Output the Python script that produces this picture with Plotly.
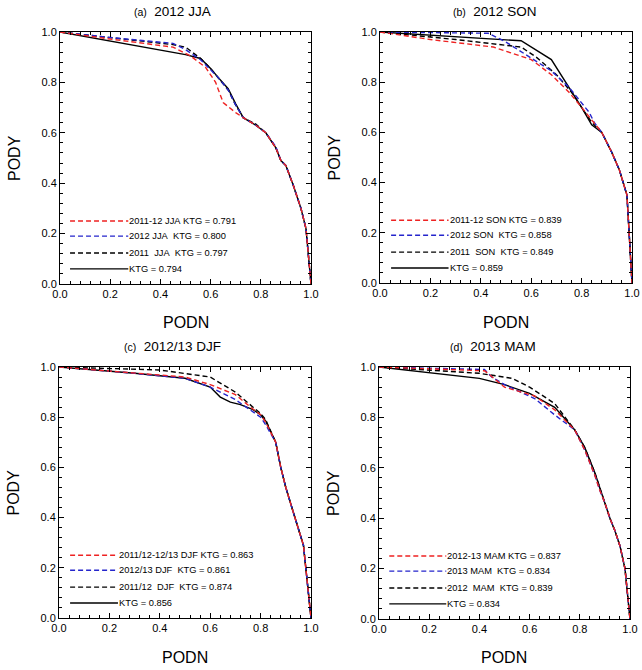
import plotly.graph_objects as go

# ---------------- data ----------------
# Panel (a) 2012 JJA
a_red_x = [0, 0.2, 0.45, 0.52, 0.58, 0.62, 0.65, 0.70, 0.73, 0.78, 0.82, 0.86, 0.88, 0.90, 0.93, 0.96, 0.98, 1.0]
a_red_y = [1, 0.972, 0.94, 0.905, 0.86, 0.80, 0.72, 0.68, 0.66, 0.63, 0.60, 0.54, 0.49, 0.47, 0.39, 0.30, 0.22, 0.0]
a_blue_x = [0, 0.2, 0.45, 0.50, 0.56, 0.60, 0.63, 0.67, 0.70, 0.73, 0.78, 0.82, 0.86, 0.88, 0.90, 0.93, 0.96, 0.98, 1.0]
a_blue_y = [1, 0.978, 0.955, 0.93, 0.89, 0.85, 0.82, 0.77, 0.71, 0.66, 0.63, 0.60, 0.545, 0.49, 0.47, 0.39, 0.30, 0.22, 0.0]
a_blk_x = [0, 0.2, 0.45, 0.50, 0.56, 0.60, 0.63, 0.67, 0.70, 0.73, 0.78, 0.82, 0.86, 0.88, 0.90, 0.93, 0.96, 0.98, 1.0]
a_blk_y = [1, 0.977, 0.95, 0.94, 0.895, 0.855, 0.82, 0.77, 0.71, 0.66, 0.635, 0.60, 0.54, 0.49, 0.47, 0.39, 0.30, 0.22, 0.0]
a_sol_x = [0, 0.2, 0.50, 0.56, 0.60, 0.63, 0.67, 0.70, 0.73, 0.78, 0.82, 0.86, 0.88, 0.90, 0.93, 0.96, 0.98, 1.0]
a_sol_y = [1, 0.965, 0.91, 0.895, 0.855, 0.82, 0.775, 0.715, 0.66, 0.63, 0.60, 0.54, 0.49, 0.47, 0.39, 0.30, 0.22, 0.0]
a_labels = ["2011-12 JJA KTG = 0.791", "2012 JJA  KTG = 0.800", "2011  JJA  KTG = 0.797", "KTG = 0.794"]

# Panel (b) 2012 SON
b_red_x = [0, 0.2, 0.45, 0.60, 0.68, 0.75, 0.80, 0.84, 0.88, 0.92, 0.95, 0.98, 1.0]
b_red_y = [1, 0.97, 0.94, 0.89, 0.83, 0.76, 0.70, 0.65, 0.60, 0.52, 0.45, 0.35, 0.0]
b_blue_x = [0, 0.43, 0.50, 0.58, 0.68, 0.75, 0.80, 0.83, 0.85, 0.88, 0.92, 0.95, 0.98, 1.0]
b_blue_y = [1, 0.995, 0.96, 0.91, 0.845, 0.78, 0.72, 0.68, 0.64, 0.60, 0.52, 0.45, 0.35, 0.0]
b_blk_x = [0, 0.3, 0.56, 0.62, 0.70, 0.76, 0.80, 0.84, 0.88, 0.92, 0.95, 0.98, 1.0]
b_blk_y = [1, 0.97, 0.94, 0.90, 0.83, 0.76, 0.70, 0.64, 0.60, 0.52, 0.45, 0.35, 0.0]
b_sol_x = [0, 0.3, 0.56, 0.68, 0.75, 0.80, 0.84, 0.88, 0.92, 0.95, 0.98, 1.0]
b_sol_y = [1, 0.98, 0.965, 0.89, 0.78, 0.70, 0.63, 0.60, 0.52, 0.45, 0.35, 0.0]
b_labels = ["2011-12 SON KTG = 0.839", "2012 SON  KTG = 0.858", "2011  SON  KTG = 0.849", "KTG = 0.859"]

# Panel (c) 2012/13 DJF
c_red_x = [0, 0.3, 0.50, 0.60, 0.70, 0.76, 0.80, 0.82, 0.86, 0.88, 0.90, 0.93, 0.97, 1.0]
c_red_y = [1, 0.975, 0.96, 0.93, 0.89, 0.84, 0.81, 0.78, 0.70, 0.60, 0.52, 0.42, 0.29, 0.0]
c_blue_x = [0, 0.3, 0.50, 0.60, 0.70, 0.77, 0.80, 0.82, 0.86, 0.88, 0.90, 0.93, 0.97, 1.0]
c_blue_y = [1, 0.975, 0.955, 0.92, 0.87, 0.82, 0.80, 0.77, 0.70, 0.60, 0.52, 0.42, 0.29, 0.0]
c_blk_x = [0, 0.4, 0.60, 0.70, 0.77, 0.80, 0.82, 0.86, 0.88, 0.90, 0.93, 0.97, 1.0]
c_blk_y = [1, 0.988, 0.96, 0.90, 0.84, 0.815, 0.79, 0.70, 0.60, 0.52, 0.42, 0.29, 0.0]
c_sol_x = [0, 0.3, 0.50, 0.60, 0.64, 0.68, 0.72, 0.77, 0.80, 0.82, 0.86, 0.88, 0.90, 0.93, 0.97, 1.0]
c_sol_y = [1, 0.975, 0.955, 0.92, 0.88, 0.86, 0.85, 0.83, 0.81, 0.785, 0.70, 0.60, 0.52, 0.42, 0.29, 0.0]
c_labels = ["2011/12-12/13 DJF KTG = 0.863", "2012/13 DJF  KTG = 0.861", "2011/12  DJF  KTG = 0.874", "KTG = 0.856"]

# Panel (d) 2013 MAM
d_red_x = [0, 0.42, 0.44, 0.50, 0.62, 0.70, 0.78, 0.82, 0.86, 0.88, 0.90, 0.92, 0.94, 0.96, 0.98, 1.0]
d_red_y = [1, 0.985, 0.97, 0.92, 0.885, 0.83, 0.75, 0.67, 0.57, 0.51, 0.46, 0.40, 0.35, 0.29, 0.20, 0.0]
d_blue_x = [0, 0.42, 0.45, 0.50, 0.62, 0.70, 0.78, 0.82, 0.86, 0.88, 0.90, 0.92, 0.94, 0.96, 0.98, 1.0]
d_blue_y = [1, 0.99, 0.96, 0.93, 0.875, 0.81, 0.75, 0.67, 0.57, 0.51, 0.46, 0.40, 0.35, 0.29, 0.20, 0.0]
d_blk_x = [0, 0.4, 0.53, 0.60, 0.70, 0.78, 0.82, 0.86, 0.88, 0.90, 0.92, 0.94, 0.96, 0.98, 1.0]
d_blk_y = [1, 0.975, 0.955, 0.92, 0.855, 0.75, 0.68, 0.58, 0.52, 0.46, 0.40, 0.35, 0.29, 0.20, 0.0]
d_sol_x = [0, 0.4, 0.50, 0.60, 0.70, 0.78, 0.82, 0.86, 0.88, 0.90, 0.92, 0.94, 0.96, 0.98, 1.0]
d_sol_y = [1, 0.955, 0.93, 0.895, 0.84, 0.75, 0.68, 0.58, 0.52, 0.46, 0.40, 0.35, 0.29, 0.20, 0.0]
d_labels = ["2012-13 MAM KTG = 0.837", "2013 MAM  KTG = 0.834", "2012  MAM  KTG = 0.839", "KTG = 0.834"]

tick_vals = [0.0, 0.2, 0.4, 0.6, 0.8, 1.0]
tick_text = ["0.0", "0.2", "0.4", "0.6", "0.8", "1.0"]

panels = [
    dict(tag="(a)", title="2012 JJA", series=[(a_red_x, a_red_y), (a_blue_x, a_blue_y), (a_blk_x, a_blk_y), (a_sol_x, a_sol_y)], labels=a_labels),
    dict(tag="(b)", title="2012 SON", series=[(b_red_x, b_red_y), (b_blue_x, b_blue_y), (b_blk_x, b_blk_y), (b_sol_x, b_sol_y)], labels=b_labels),
    dict(tag="(c)", title="2012/13 DJF", series=[(c_red_x, c_red_y), (c_blue_x, c_blue_y), (c_blk_x, c_blk_y), (c_sol_x, c_sol_y)], labels=c_labels),
    dict(tag="(d)", title="2013 MAM", series=[(d_red_x, d_red_y), (d_blue_x, d_blue_y), (d_blk_x, d_blk_y), (d_sol_x, d_sol_y)], labels=d_labels),
]

# ---------------- layout ----------------
W, H = 642, 670
FONT = "Liberation Sans, Arial, Helvetica, sans-serif"
# plot boxes in pixels: (left, right, top, bottom)
boxes = [(60, 311, 32, 284), (380, 632, 32, 283), (59, 311, 367, 618), (379, 630, 367, 619)]
title_y = [11, 11, 346, 346]
podn_y = [322, 322, 657, 657]
title_cx = [173, 494, 173, 493]
legend_x0 = [0.04, 0.044, 0.044, 0.041]
legend_x1 = [0.272, 0.272, 0.234, 0.268]
legend_y = [0.25, 0.19, 0.123, 0.06]

styles = [
    dict(color="#ee2222", width=1.4, dash="5px,3px"),
    dict(color="#2525cc", width=1.4, dash="5px,3px"),
    dict(color="black", width=1.4, dash="5px,3px"),
    dict(color="black", width=1.4, dash="solid"),
]

fig = go.Figure()
annotations = []

for i, p in enumerate(panels):
    n = "" if i == 0 else str(i + 1)
    xa, ya = "x" + n, "y" + n
    l, r, t, b = boxes[i]
    common = dict(
        range=[0, 1], tickvals=tick_vals, ticktext=tick_text, ticks="inside", ticklen=5,
        tickwidth=1, tickcolor="black", showline=True, linecolor="black", linewidth=1,
        mirror="allticks", showgrid=False, zeroline=False, automargin=False,
        tickfont=dict(family=FONT, size=11, color="black"),
        minor=dict(dtick=0.04, ticks="inside", ticklen=3, tickcolor="black", tickwidth=1, showgrid=False),
        fixedrange=True,
    )
    fig.layout["xaxis" + n] = dict(common, domain=[l / W, r / W], anchor=ya)
    fig.layout["yaxis" + n] = dict(common, domain=[1 - b / H, 1 - t / H], anchor=xa)

    # curves (solid first, red last so it sits on top)
    for (sx, sy), st in reversed(list(zip(p["series"], styles))):
        fig.add_trace(go.Scatter(x=sx, y=sy, mode="lines", line=st, xaxis=xa, yaxis=ya,
                                 showlegend=False, hoverinfo="skip"))
    # legend sample lines and labels
    for k, (lab, st) in enumerate(zip(p["labels"], styles)):
        yy = legend_y[k]
        fig.add_trace(go.Scatter(x=[legend_x0[i], legend_x1[i]], y=[yy, yy], mode="lines", line=st,
                                 xaxis=xa, yaxis=ya, showlegend=False, hoverinfo="skip"))
        annotations.append(dict(x=legend_x1[i], y=yy, xref=xa, yref=ya, text=lab.replace(" ", "\u00a0"),
                                showarrow=False, xanchor="left", yanchor="middle", xshift=-1,
                                font=dict(family=FONT, size=9.3, color="black")))

    # panel title
    annotations.append(dict(x=title_cx[i] / W, y=1 - title_y[i] / H, xref="paper", yref="paper",
                            text="<span style='font-size:10.5px'>" + p["tag"] + "</span>\u00a0\u00a0" + p["title"],
                            showarrow=False, xanchor="center", yanchor="middle",
                            font=dict(family=FONT, size=13.5, color="black")))
    # axis titles
    annotations.append(dict(x=((l + r) / 2) / W, y=1 - podn_y[i] / H, xref="paper", yref="paper",
                            text="PODN", showarrow=False, xanchor="center", yanchor="middle",
                            font=dict(family=FONT, size=16, color="black")))
    annotations.append(dict(x=(l - 46) / W, y=1 - ((t + b) / 2) / H, xref="paper", yref="paper",
                            text="PODY", showarrow=False, xanchor="center", yanchor="middle", textangle=-90,
                            font=dict(family=FONT, size=16, color="black")))

fig.update_layout(
    template="none",
    width=W, height=H, margin=dict(l=0, r=0, t=0, b=0, autoexpand=False),
    paper_bgcolor="white", plot_bgcolor="white",
    annotations=annotations, showlegend=False,
)

fig.write_html("out.html", config={"displayModeBar": False},
               post_script="document.body.style.margin='0';document.body.style.overflow='hidden';")
